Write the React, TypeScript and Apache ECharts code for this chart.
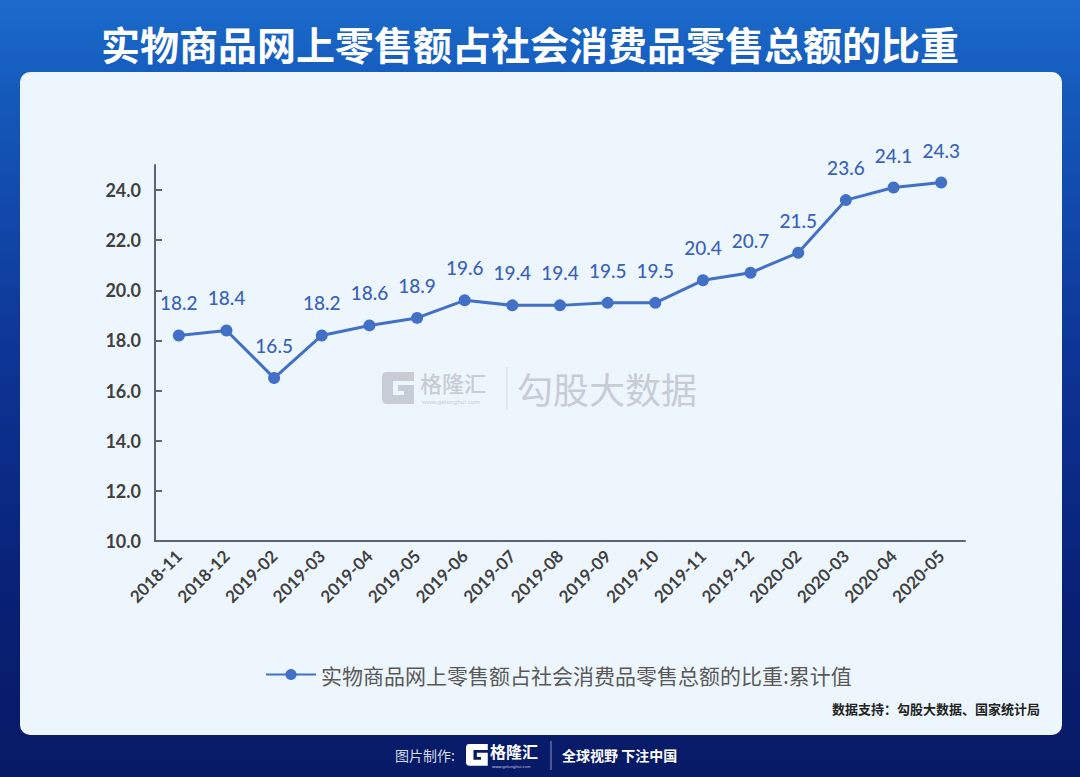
import React, { useEffect, useRef } from "react";
import * as echarts from "echarts";

const categories = [
  "2018-11", "2018-12", "2019-02", "2019-03", "2019-04", "2019-05", "2019-06",
  "2019-07", "2019-08", "2019-09", "2019-10", "2019-11", "2019-12", "2020-02",
  "2020-03", "2020-04", "2020-05",
];
const values = [18.2, 18.4, 16.5, 18.2, 18.6, 18.9, 19.6, 19.4, 19.4, 19.5, 19.5, 20.4, 20.7, 21.5, 23.6, 24.1, 24.3];
const yTicks = [10, 12, 14, 16, 18, 20, 22, 24];
const seriesName = "实物商品网上零售额占社会消费品零售总额的比重:累计值";
const titleText = "实物商品网上零售额占社会消费品零售总额的比重";
const sourceText = "数据支持：勾股大数据、国家统计局";

const G_PATH =
  "M5 0 H32 V9 H11 V23 H22 V19 H16 V13 H32 V32 H5 Q0 32 0 27 V5 Q0 0 5 0 Z";

let registered = false;
function registerShapes() {
  if (registered) return;
  echarts.graphic.registerShape("glogo", echarts.graphic.extendPath(G_PATH, {}) as any);
  registered = true;
}

export default function App() {
  const ref = useRef<HTMLDivElement>(null);
  useEffect(() => {
    if (!ref.current) return;
    registerShapes();
    const chart = echarts.init(ref.current, null, { renderer: "svg" });
    const lineColor = "#4170c6";
    chart.setOption({
      animation: false,
      graphic: [
        {
          type: "rect",
          z: -10,
          silent: true,
          shape: { x: 0, y: 0, width: 1080, height: 777 },
          style: {
            fill: new echarts.graphic.LinearGradient(0, 0, 0, 1, [
              { offset: 0, color: "#1b6bcc" },
              { offset: 0.1, color: "#155cbd" },
              { offset: 0.45, color: "#0d3596" },
              { offset: 0.8, color: "#081f72" },
              { offset: 1, color: "#071a66" },
            ]),
          },
        },
        {
          type: "rect",
          z: -9,
          silent: true,
          shape: { x: 20, y: 72, width: 1042, height: 663, r: 10 },
          style: { fill: "#eef6fd" },
        },
        {
          type: "text",
          z: 5,
          x: 530,
          y: 43,
          style: {
            text: titleText,
            fill: "#ffffff",
            font: "bold 39px 'Noto Sans CJK SC'",
            align: "center",
            verticalAlign: "middle",
          },
        },
        // watermark
        {
          type: "glogo",
          z: -5,
          x: 382,
          y: 372,
          scaleX: 1,
          scaleY: 1,
          style: { fill: "#c7ccd6" },
        },
        {
          type: "text",
          z: -5,
          x: 420,
          y: 382,
          style: {
            text: "格隆汇",
            fill: "#c7ccd6",
            font: "500 22px 'Noto Sans CJK SC'",
            verticalAlign: "middle",
          },
        },
        {
          type: "text",
          z: -5,
          x: 422,
          y: 402,
          style: {
            text: "www.gelonghui.com",
            fill: "#c7ccd6",
            font: "6px 'Noto Sans'",
            verticalAlign: "middle",
          },
        },
        {
          type: "line",
          z: -5,
          shape: { x1: 507, y1: 367, x2: 507, y2: 410 },
          style: { stroke: "#d3d8e0", lineWidth: 1 },
        },
        {
          type: "text",
          z: -5,
          x: 517,
          y: 388,
          style: {
            text: "勾股大数据",
            fill: "#c7ccd6",
            font: "36px 'Noto Sans CJK SC'",
            verticalAlign: "middle",
          },
        },
        // source
        {
          type: "text",
          x: 1040,
          y: 708,
          style: {
            text: sourceText,
            fill: "#222222",
            font: "bold 13px 'Noto Sans CJK SC'",
            align: "right",
            verticalAlign: "middle",
          },
        },
        // footer
        {
          type: "text",
          x: 455,
          y: 755,
          style: {
            text: "图片制作:",
            fill: "#d8dcea",
            font: "14px 'Noto Sans CJK SC'",
            align: "right",
            verticalAlign: "middle",
          },
        },
        {
          type: "glogo",
          x: 466,
          y: 744,
          scaleX: 0.68,
          scaleY: 0.68,
          style: { fill: "#ffffff" },
        },
        {
          type: "text",
          x: 490,
          y: 751,
          style: {
            text: "格隆汇",
            fill: "#ffffff",
            font: "bold 16px 'Noto Sans CJK SC'",
            verticalAlign: "middle",
          },
        },
        {
          type: "text",
          x: 492,
          y: 766,
          style: {
            text: "www.gelonghui.com",
            fill: "#c9cfe0",
            font: "4px 'Noto Sans'",
            verticalAlign: "middle",
          },
        },
        {
          type: "line",
          shape: { x1: 551, y1: 741, x2: 551, y2: 770 },
          style: { stroke: "#8d97c0", lineWidth: 1 },
        },
        {
          type: "text",
          x: 562,
          y: 755,
          style: {
            text: "全球视野 下注中国",
            fill: "#ffffff",
            font: "bold 14px 'Noto Sans CJK SC'",
            verticalAlign: "middle",
          },
        },
      ],
      grid: { left: 155, right: 115, top: 165, bottom: 236, containLabel: false },
      legend: {
        left: 260,
        top: 659,
        itemWidth: 50,
        itemHeight: 14,
        itemGap: 10,
        data: [seriesName],
        textStyle: {
          color: "#595959",
          fontSize: 21,
          fontFamily: "'Noto Sans CJK SC'",
        },
      },
      xAxis: {
        type: "category",
        data: categories,
        boundaryGap: true,
        axisLine: { lineStyle: { color: "#5b6577", width: 2 } },
        axisTick: { inside: true, length: 7, lineStyle: { color: "#5b6577", width: 2 } },
        axisLabel: {
          rotate: 45,
          interval: 0,
          margin: 12,
          color: "#404040",
          fontSize: 17,
          fontWeight: "bold",
          fontFamily: "Lato",
        },
      },
      yAxis: {
        type: "value",
        min: 10,
        max: 25,
        interval: 2,
        splitLine: { show: false },
        axisLine: { show: true, lineStyle: { color: "#5b6577", width: 2 } },
        axisTick: {
          show: true,
          inside: true,
          length: 7,
          customValues: yTicks,
          lineStyle: { color: "#5b6577", width: 2 },
        },
        axisLabel: {
          customValues: yTicks,
          margin: 14,
          color: "#404040",
          fontSize: 18,
          fontWeight: "bold",
          fontFamily: "Lato",
          formatter: (v: number) => v.toFixed(1),
        },
      },
      series: [
        {
          name: seriesName,
          type: "line",
          data: values,
          symbol: "circle",
          symbolSize: 12,
          lineStyle: { color: lineColor, width: 3 },
          itemStyle: { color: lineColor },
          label: {
            show: true,
            position: "top",
            distance: 17,
            color: "#3a62b8",
            fontSize: 19,
            fontWeight: 500,
            fontFamily: "Lato",
            formatter: (p: any) => Number(p.value).toFixed(1),
          },
        },
      ],
    });
    return () => chart.dispose();
  }, []);
  return (
    <div
      ref={ref}
      style={{ position: "absolute", left: 0, top: 0, width: 1080, height: 777 }}
    />
  );
}
